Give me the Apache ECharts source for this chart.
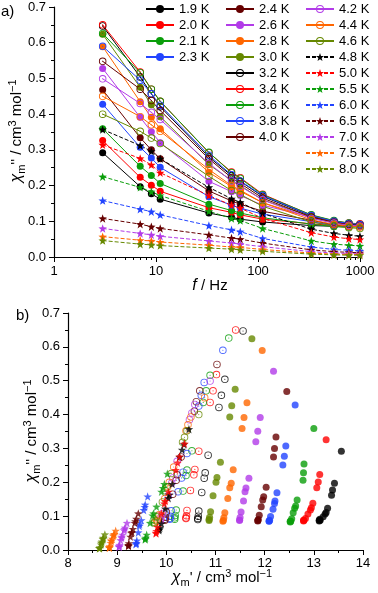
<!DOCTYPE html>
<html>
<head>
<meta charset="utf-8">
<script src="https://cdn.jsdelivr.net/npm/echarts@6/dist/echarts.min.js"></script>
<style>
html, body { margin: 0; padding: 0; background: #fff; }
#chart { width: 378px; height: 593px; }
</style>
</head>
<body>
<div id="chart"></div>
<script>
// measuring frequencies (Hz)
const freqHz = [3, 7, 9, 11, 33, 55, 67, 111, 333, 555, 777, 999];
const tempLabels = ['1.9 K', '2.0 K', '2.1 K', '2.3 K', '2.4 K', '2.6 K', '2.8 K', '3.0 K',
    '3.2 K', '3.4 K', '3.6 K', '3.8 K', '4.0 K', '4.2 K', '4.4 K', '4.6 K',
    '4.8 K', '5.0 K', '5.5 K', '6.0 K', '6.5 K', '7.0 K', '7.5 K', '8.0 K'];
const yTicks = [0, 0.1, 0.2, 0.3, 0.4, 0.5, 0.6, 0.7];
const xTicksB = [8, 9, 10, 11, 12, 13, 14];
const logMinorTicks = [2, 3, 4, 5, 6, 7, 8, 9, 20, 30, 40, 50, 60, 70, 80, 90, 200, 300, 400, 500, 600, 700, 800, 900];

// chi'' (cm3 mol-1), one value per frequency
const chi2_1p9 = [0.292, 0.197, 0.177, 0.162, 0.123, 0.111, 0.106, 0.098, 0.088, 0.086, 0.088, 0.091];
const chi2_2p0 = [0.326, 0.223, 0.201, 0.184, 0.138, 0.125, 0.118, 0.106, 0.093, 0.088, 0.086, 0.088];
const chi2_2p1 = [0.359, 0.254, 0.228, 0.206, 0.148, 0.130, 0.123, 0.110, 0.092, 0.085, 0.083, 0.085];
const chi2_2p3 = [0.428, 0.307, 0.277, 0.251, 0.169, 0.145, 0.137, 0.120, 0.099, 0.088, 0.085, 0.086];
const chi2_2p4 = [0.468, 0.334, 0.300, 0.275, 0.185, 0.157, 0.148, 0.128, 0.103, 0.090, 0.086, 0.087];
const chi2_2p6 = [0.528, 0.391, 0.351, 0.320, 0.212, 0.183, 0.172, 0.145, 0.112, 0.096, 0.088, 0.088];
const chi2_2p8 = [0.589, 0.435, 0.391, 0.359, 0.237, 0.197, 0.184, 0.152, 0.110, 0.095, 0.087, 0.085];
const chi2_3p0 = [0.624, 0.475, 0.426, 0.393, 0.259, 0.214, 0.200, 0.160, 0.113, 0.097, 0.090, 0.087];
const chi2_3p2 = [0.647, 0.504, 0.457, 0.421, 0.280, 0.228, 0.212, 0.170, 0.115, 0.100, 0.093, 0.090];
const chi2_3p4 = [0.650, 0.518, 0.470, 0.436, 0.292, 0.238, 0.222, 0.176, 0.117, 0.101, 0.095, 0.093];
const chi2_3p6 = [0.626, 0.516, 0.470, 0.436, 0.293, 0.236, 0.220, 0.174, 0.118, 0.102, 0.095, 0.091];
const chi2_3p8 = [0.590, 0.495, 0.457, 0.425, 0.285, 0.230, 0.213, 0.172, 0.116, 0.100, 0.094, 0.091];
const chi2_4p0 = [0.548, 0.470, 0.438, 0.410, 0.275, 0.222, 0.206, 0.165, 0.112, 0.097, 0.091, 0.088];
const chi2_4p2 = [0.499, 0.430, 0.405, 0.385, 0.262, 0.213, 0.198, 0.160, 0.108, 0.095, 0.089, 0.087];
const chi2_4p4 = [0.450, 0.393, 0.370, 0.352, 0.245, 0.200, 0.187, 0.152, 0.104, 0.091, 0.086, 0.084];
const chi2_4p6 = [0.400, 0.352, 0.333, 0.318, 0.226, 0.186, 0.175, 0.142, 0.098, 0.087, 0.082, 0.080];
const chi2_4p8 = [0.357, 0.312, 0.296, 0.275, 0.195, 0.163, 0.153, 0.122, 0.078, 0.066, 0.061, 0.058];
const chi2_5p0 = [0.314, 0.276, 0.258, 0.236, 0.172, 0.145, 0.137, 0.108, 0.068, 0.056, 0.051, 0.049];
const chi2_5p5 = [0.225, 0.195, 0.183, 0.172, 0.128, 0.108, 0.102, 0.080, 0.045, 0.036, 0.033, 0.031];
const chi2_6p0 = [0.158, 0.134, 0.127, 0.118, 0.088, 0.076, 0.071, 0.052, 0.028, 0.021, 0.019, 0.017];
const chi2_6p5 = [0.108, 0.092, 0.085, 0.080, 0.062, 0.053, 0.050, 0.039, 0.020, 0.015, 0.013, 0.012];
const chi2_7p0 = [0.080, 0.066, 0.062, 0.058, 0.045, 0.039, 0.036, 0.029, 0.015, 0.011, 0.010, 0.009];
const chi2_7p5 = [0.057, 0.047, 0.045, 0.042, 0.033, 0.028, 0.027, 0.021, 0.011, 0.008, 0.007, 0.007];
const chi2_8p0 = [0.046, 0.036, 0.034, 0.032, 0.025, 0.022, 0.020, 0.016, 0.008, 0.006, 0.005, 0.005];

// chi' (cm3 mol-1), one value per frequency
const chi1_1p9 = [13.56, 13.42, 13.38, 13.36, 13.28, 13.25, 13.23, 13.19, 13.13, 13.11, 13.11, 13.12];
const chi1_2p0 = [13.25, 13.12, 13.09, 13.06, 12.98, 12.95, 12.93, 12.88, 12.83, 12.80, 12.79, 12.79];
const chi1_2p1 = [13.00, 12.80, 12.79, 12.78, 12.66, 12.63, 12.61, 12.58, 12.55, 12.53, 12.52, 12.52];
const chi1_2p3 = [12.62, 12.43, 12.40, 12.37, 12.25, 12.21, 12.20, 12.17, 12.12, 12.10, 12.09, 12.09];
const chi1_2p4 = [12.45, 12.23, 12.20, 12.18, 12.03, 11.98, 11.96, 11.93, 11.89, 11.87, 11.86, 11.86];
const chi1_2p6 = [12.18, 11.91, 11.86, 11.82, 11.68, 11.62, 11.60, 11.57, 11.52, 11.50, 11.49, 11.49];
const chi1_2p8 = [11.95, 11.64, 11.58, 11.54, 11.36, 11.32, 11.29, 11.25, 11.19, 11.17, 11.16, 11.15];
const chi1_3p0 = [11.74, 11.40, 11.33, 11.29, 11.10, 11.03, 11.01, 10.95, 10.90, 10.88, 10.87, 10.87];
const chi1_3p2 = [11.56, 11.19, 11.12, 11.07, 10.85, 10.79, 10.77, 10.72, 10.66, 10.65, 10.64, 10.64];
const chi1_3p4 = [11.41, 11.02, 10.95, 10.89, 10.66, 10.58, 10.56, 10.49, 10.42, 10.41, 10.40, 10.40];
const chi1_3p6 = [11.27, 10.89, 10.81, 10.75, 10.52, 10.42, 10.40, 10.34, 10.20, 10.18, 10.17, 10.17];
const chi1_3p8 = [11.15, 10.77, 10.71, 10.66, 10.42, 10.34, 10.31, 10.24, 10.10, 10.08, 10.07, 10.07];
const chi1_4p0 = [11.03, 10.68, 10.61, 10.57, 10.30, 10.22, 10.20, 10.13, 10.00, 9.98, 9.97, 9.97];
const chi1_4p2 = [10.89, 10.58, 10.52, 10.47, 10.22, 10.13, 10.11, 10.04, 9.92, 9.89, 9.88, 9.88];
const chi1_4p4 = [10.78, 10.50, 10.44, 10.40, 10.15, 10.06, 10.03, 9.97, 9.85, 9.82, 9.81, 9.81];
const chi1_4p6 = [10.66, 10.42, 10.37, 10.33, 10.10, 10.01, 9.98, 9.92, 9.80, 9.77, 9.76, 9.76];
const chi1_4p8 = [10.46, 10.36, 10.32, 10.27, 10.12, 10.06, 10.04, 9.98, 9.90, 9.87, 9.86, 9.85];
const chi1_5p0 = [10.37, 10.27, 10.23, 10.19, 10.04, 9.98, 9.96, 9.90, 9.82, 9.80, 9.79, 9.79];
const chi1_5p5 = [10.02, 9.96, 9.93, 9.90, 9.80, 9.74, 9.72, 9.67, 9.60, 9.58, 9.57, 9.57];
const chi1_6p0 = [9.62, 9.57, 9.56, 9.54, 9.49, 9.46, 9.45, 9.43, 9.40, 9.39, 9.39, 9.38];
const chi1_6p5 = [9.43, 9.39, 9.37, 9.36, 9.32, 9.30, 9.29, 9.27, 9.24, 9.23, 9.23, 9.23];
const chi1_7p0 = [9.20, 9.16, 9.15, 9.14, 9.11, 9.09, 9.09, 9.07, 9.05, 9.04, 9.04, 9.04];
const chi1_7p5 = [8.97, 8.94, 8.93, 8.92, 8.90, 8.88, 8.88, 8.87, 8.85, 8.84, 8.84, 8.84];
const chi1_8p0 = [8.75, 8.72, 8.71, 8.71, 8.69, 8.68, 8.68, 8.67, 8.65, 8.64, 8.64, 8.64];

const chi2Sets = [chi2_1p9, chi2_2p0, chi2_2p1, chi2_2p3, chi2_2p4, chi2_2p6, chi2_2p8, chi2_3p0,
    chi2_3p2, chi2_3p4, chi2_3p6, chi2_3p8, chi2_4p0, chi2_4p2, chi2_4p4, chi2_4p6,
    chi2_4p8, chi2_5p0, chi2_5p5, chi2_6p0, chi2_6p5, chi2_7p0, chi2_7p5, chi2_8p0];
const chi1Sets = [chi1_1p9, chi1_2p0, chi1_2p1, chi1_2p3, chi1_2p4, chi1_2p6, chi1_2p8, chi1_3p0,
    chi1_3p2, chi1_3p4, chi1_3p6, chi1_3p8, chi1_4p0, chi1_4p2, chi1_4p4, chi1_4p6,
    chi1_4p8, chi1_5p0, chi1_5p5, chi1_6p0, chi1_6p5, chi1_7p0, chi1_7p5, chi1_8p0];

//颜色：每组8个温度循环使用
const palette = ['#000000', '#ff0000', '#0a9e0a', '#2244ff', '#660000', '#b23be8', '#ff6600', '#668800'];
const FONT = '"Liberation Sans", Arial, sans-serif';
const RING = 'path://M10,0A10,10 0 1,1 10,20A10,10 0 1,1 10,0ZM10,2.4A7.6,7.6 0 1,0 10,17.6A7.6,7.6 0 1,0 10,2.4ZM10,8.5A1.5,1.5 0 1,1 10,11.5A1.5,1.5 0 1,1 10,8.5Z';
const STAR = 'path://M10,0L12.35,6.76L19.51,6.91L13.8,11.24L15.88,18.09L10,14L4.12,18.09L6.2,11.24L0.49,6.91L7.65,6.76Z';

function markerOf(i) {
    if (i < 8) return {symbol: 'circle', size: 7};
    if (i < 16) return {symbol: RING, size: 7.5};
    return {symbol: STAR, size: 8.5};
}

const series = [];
// a) chi'' vs f
tempLabels.forEach(function (name, i) {
    const m = markerOf(i);
    const c = palette[i % 8];
    series.push({
        name: name, type: 'line', xAxisIndex: 0, yAxisIndex: 0,
        data: freqHz.map(function (f, k) { return [f, chi2Sets[i][k]]; }),
        symbol: m.symbol, symbolSize: m.size, showSymbol: true,
        lineStyle: {width: 1, color: c, type: i < 16 ? 'solid' : [4, 2]},
        itemStyle: {color: c},
        emphasis: {disabled: true}
    });
});
// b) Cole-Cole
tempLabels.forEach(function (name, i) {
    const m = markerOf(i);
    const c = palette[i % 8];
    series.push({
        name: name, type: 'scatter', xAxisIndex: 2, yAxisIndex: 1,
        data: chi1Sets[i].map(function (x, k) { return [x, chi2Sets[i][k]]; }),
        symbol: m.symbol, symbolSize: m.size,
        itemStyle: {color: c},
        emphasis: {disabled: true}
    });
});

const axisLine = {show: true, onZero: false, lineStyle: {color: '#000', width: 1.2}};
const tick = {show: true, length: 5, lineStyle: {color: '#000', width: 1}};
const minor = {show: true, splitNumber: 2, length: 3, lineStyle: {color: '#000', width: 1}};
const lbl = {color: '#000', fontSize: 13, fontFamily: FONT};

const legendBase = {
    orient: 'vertical', top: 2, padding: 0, itemGap: 2, itemWidth: 28, itemHeight: 10,
    selectedMode: false,
    textStyle: {color: '#000', fontSize: 13, fontFamily: FONT, lineHeight: 14}
};

const richTitle = {
    i: {fontStyle: 'italic', fontSize: 16, fontFamily: FONT, fill: '#000', lineHeight: 20},
    s: {fontSize: 11, fontFamily: FONT, fill: '#000', lineHeight: 12, verticalAlign: 'bottom'},
    p: {fontSize: 11, fontFamily: FONT, fill: '#000', lineHeight: 12, verticalAlign: 'top'}
};

const option = {
    animation: false,
    backgroundColor: '#fff',
    grid: [
        {left: 54, right: 18, top: 7, bottom: 336},
        {left: 68, right: 15, top: 313, bottom: 43}
    ],
    xAxis: [
        {
            gridIndex: 0, type: 'log', logBase: 10, min: 1, max: 1000,
            axisLine: axisLine, axisTick: tick, splitLine: {show: false},
            axisLabel: Object.assign({margin: 8, formatter: function (v) { return String(Math.round(v)); }}, lbl)
        },
        {
            gridIndex: 0, type: 'log', logBase: 10, min: 1, max: 1000, position: 'bottom',
            axisLine: {show: false}, splitLine: {show: false}, axisLabel: {show: false},
            axisTick: {show: true, length: 3, customValues: logMinorTicks, lineStyle: {color: '#000', width: 1}}
        },
        {
            gridIndex: 1, type: 'value', min: xTicksB[0], max: xTicksB[xTicksB.length - 1], interval: 1,
            axisLine: axisLine, axisTick: tick, minorTick: minor, splitLine: {show: false},
            axisLabel: Object.assign({margin: 7}, lbl)
        }
    ],
    yAxis: [
        {
            gridIndex: 0, type: 'value', min: yTicks[0], max: yTicks[yTicks.length - 1], interval: 0.1,
            axisLine: axisLine, axisTick: tick, minorTick: minor, splitLine: {show: false},
            axisLabel: Object.assign({margin: 8, formatter: function (v) { return v.toFixed(1); }}, lbl)
        },
        {
            gridIndex: 1, type: 'value', min: yTicks[0], max: yTicks[yTicks.length - 1], interval: 0.1,
            axisLine: axisLine, axisTick: tick, minorTick: minor, splitLine: {show: false},
            axisLabel: Object.assign({margin: 8, formatter: function (v) { return v.toFixed(1); }}, lbl)
        }
    ],
    legend: [
        Object.assign({left: 145, data: tempLabels.slice(0, 4)}, legendBase),
        Object.assign({left: 225, data: tempLabels.slice(4, 13)}, legendBase),
        Object.assign({left: 305, data: tempLabels.slice(13)}, legendBase)
    ],
    graphic: [
        {type: 'text', x: 1, y: 12, style: {text: 'a)', fill: '#000', fontSize: 15, fontFamily: FONT, verticalAlign: 'middle'}},
        {type: 'text', x: 16, y: 316, style: {text: 'b)', fill: '#000', fontSize: 15, fontFamily: FONT, verticalAlign: 'middle'}},
        {type: 'text', x: 210, y: 286, style: {text: '{i|f} / Hz', fill: '#000', fontSize: 15, fontFamily: FONT, lineHeight: 20, align: 'center', verticalAlign: 'middle', rich: richTitle}},
        {type: 'text', x: 17, y: 131, rotation: Math.PI / 2, style: {text: "{i|χ}{s|m}'' / cm{p|3} mol{p|−1}", fill: '#000', fontSize: 15, fontFamily: FONT, lineHeight: 20, align: 'center', verticalAlign: 'middle', rich: richTitle}},
        {type: 'text', x: 32, y: 431, rotation: Math.PI / 2, style: {text: "{i|χ}{s|m}'' / cm{p|3} mol{p|−1}", fill: '#000', fontSize: 15, fontFamily: FONT, lineHeight: 20, align: 'center', verticalAlign: 'middle', rich: richTitle}},
        {type: 'text', x: 222, y: 578, style: {text: "{i|χ}{s|m}' / cm{p|3} mol{p|−1}", fill: '#000', fontSize: 15, fontFamily: FONT, lineHeight: 20, align: 'center', verticalAlign: 'middle', rich: richTitle}}
    ],
    series: series
};

const chart = echarts.init(document.getElementById('chart'), null, {renderer: 'canvas'});
chart.setOption(option);
</script>
</body>
</html>
